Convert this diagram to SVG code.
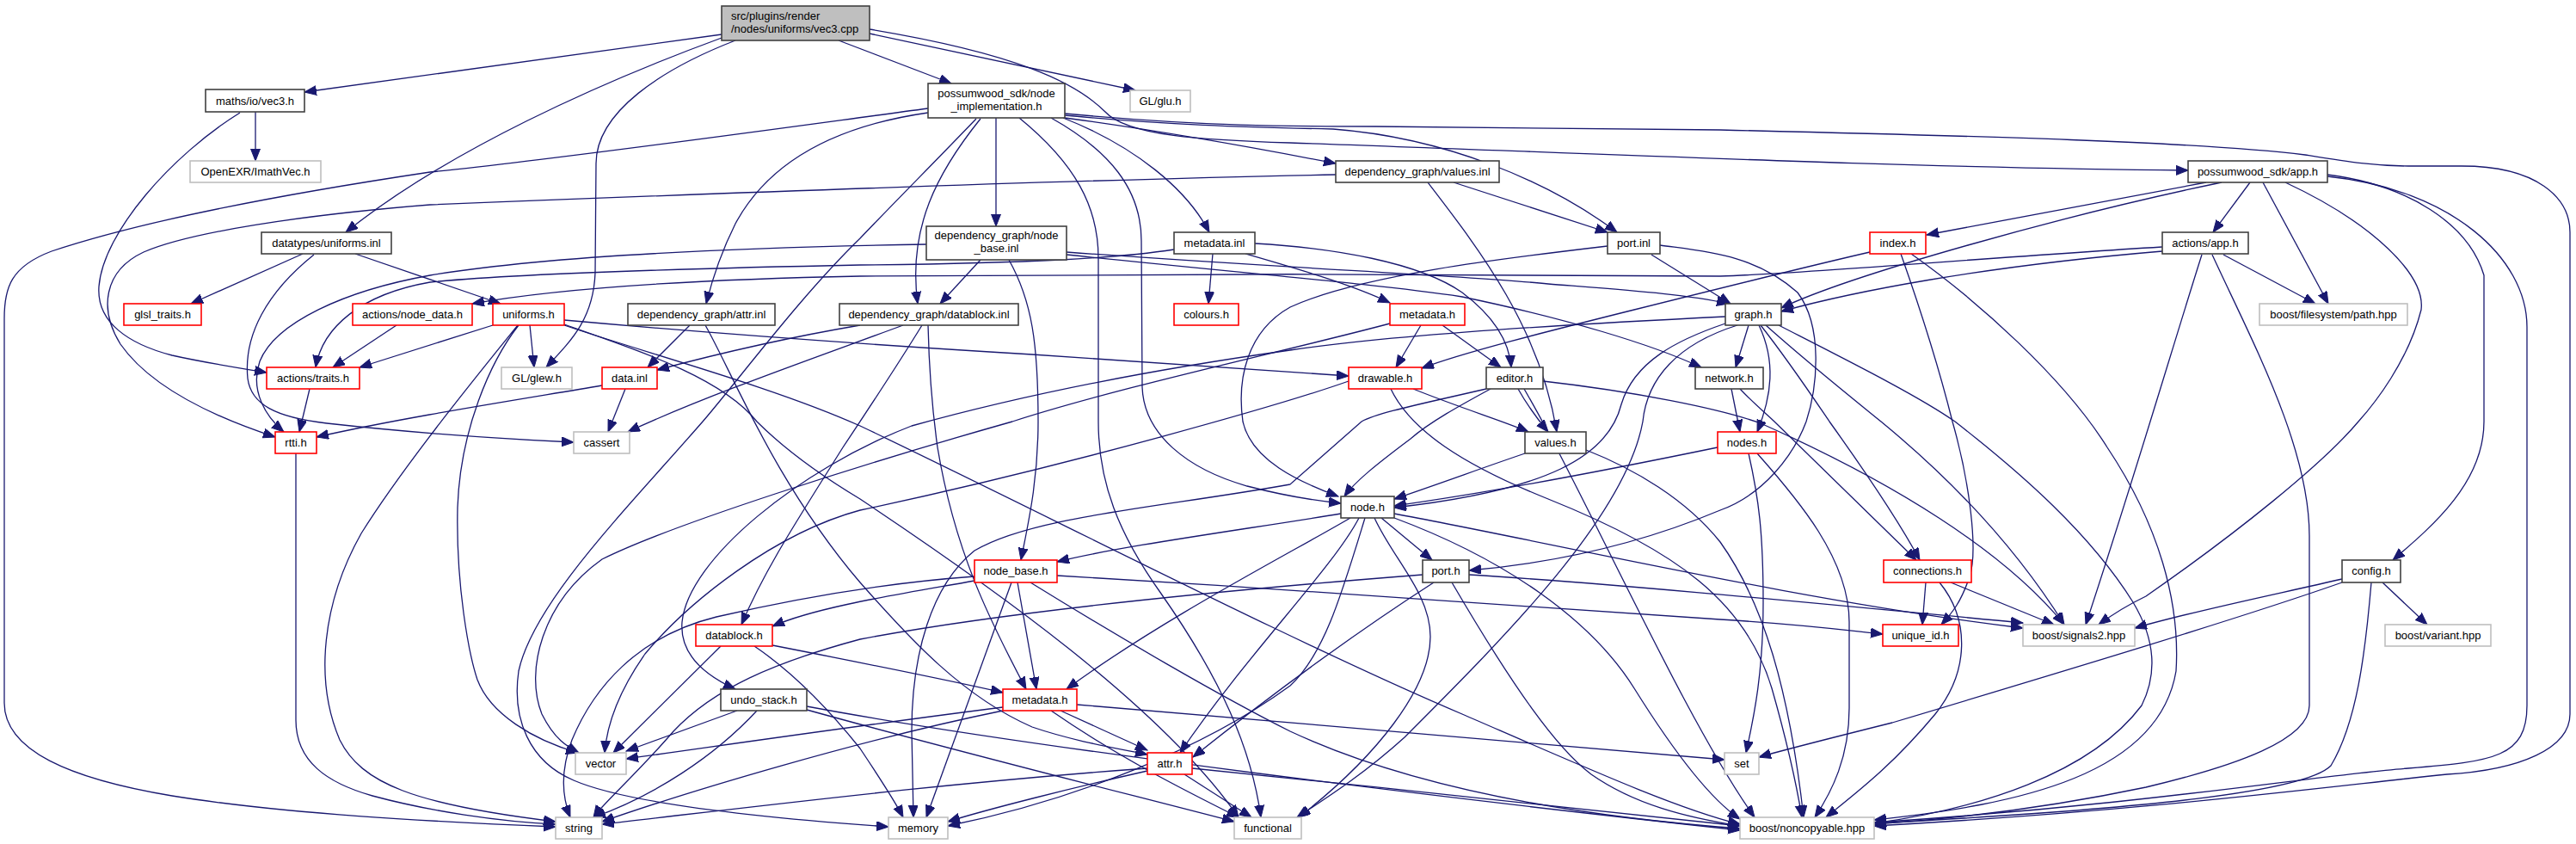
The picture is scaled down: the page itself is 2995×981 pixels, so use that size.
<svg xmlns="http://www.w3.org/2000/svg" width="2995" height="981" viewBox="0 0 2995 981">
<style>
text{font-family:"Liberation Sans",Arial,sans-serif;font-size:13px;fill:#000;text-anchor:middle}
.b{fill:#fff;stroke:#404040;stroke-width:1.6}
.r{fill:#fff;stroke:#ff0000;stroke-width:1.6}
.g{fill:#fff;stroke:#bfbfbf;stroke-width:1.6}
.top{fill:#bfbfbf;stroke:#404040;stroke-width:1.6}
#edges path{fill:none;stroke:#191970;stroke-width:1.3;marker-end:url(#ah)}
</style>
<defs>
<marker id="ah" markerUnits="userSpaceOnUse" markerWidth="15" markerHeight="12" refX="14" refY="5.5" orient="auto">
<path d="M0,0 L14,5.5 L0,11 z" fill="#191970" stroke="#191970" stroke-width="1"/>
</marker>
</defs>
<rect width="2995" height="981" fill="#fff"/>
<g id="edges">
<path d="M839,40 L354,107"/>
<path d="M839,44 C700,95 520,175 402,270"/>
<path d="M855,47 C770,80 693,130 693,190 L692,317 C690,370 665,395 635,427"/>
<path d="M975,47 L1106,97"/>
<path d="M1011,39 L1320,105"/>
<path d="M1011,34 C1180,62 1250,95 1285,130 C1310,158 1400,163 1500,166 C1800,176 2200,195 2544,198"/>
<path d="M1079,126 C900,150 650,185 500,200 C300,230 150,262 60,292 C12,310 5,335 5,370 L5,817 C5,872 80,905 200,925 C330,946 500,955 646,961"/>
<path d="M1079,131 C960,148 890,195 855,260 C840,290 828,325 821,353"/>
<path d="M1135,138 C1090,185 1040,235 1000,277 C930,345 860,440 817,490 C730,590 620,700 603,780 C595,835 615,885 667,907 C720,930 850,948 1033,961"/>
<path d="M1140,138 C1090,200 1055,265 1067,353"/>
<path d="M1158,137 L1158,263"/>
<path d="M1185,137 C1250,190 1277,240 1277,300 L1277,490 C1277,560 1300,620 1350,690 C1420,790 1455,870 1466,950"/>
<path d="M1222,137 C1290,175 1327,220 1327,280 L1328,450 C1330,505 1380,545 1450,565 C1500,578 1530,582 1559,585"/>
<path d="M1236,137 C1320,170 1380,220 1406,270"/>
<path d="M1238,137 C1350,152 1450,170 1553,190"/>
<path d="M1238,134 C1350,145 1450,148 1550,150 C1680,160 1800,210 1880,270"/>
<path d="M1238,132 C1400,147 1500,147 1600,147 L2000,151 C2300,158 2560,165 2680,180 C2730,188 2760,193 2800,193 L2862,193 C2950,193 2988,230 2988,270 L2988,830 C2988,870 2930,895 2845,900 C2700,915 2500,942 2179,960"/>
<path d="M297,130 L297,187"/>
<path d="M279,131 C200,180 120,270 115,333 C112,375 150,400 200,413 C240,422 280,428 310,433"/>
<path d="M352,295 L222,353"/>
<path d="M413,295 L582,353"/>
<path d="M365,296 C310,340 283,390 288,440 C292,470 320,485 380,492 C470,502 580,510 667,514"/>
<path d="M461,378 L387,427"/>
<path d="M573,378 L418,427"/>
<path d="M360,452 L348,502"/>
<path d="M700,448 C600,465 470,485 368,508"/>
<path d="M1553,203 C1300,208 900,222 500,238 C350,250 220,270 167,293 C120,315 115,360 140,400 C175,450 250,485 320,508"/>
<path d="M1077,284 C900,287 650,295 500,320 C400,338 320,375 302,420 C290,455 310,485 330,502"/>
<path d="M1365,290 C1300,300 1200,306 1000,308 C800,312 600,318 500,328 C420,342 375,380 367,427"/>
<path d="M2514,287 C2300,300 2100,318 2000,321 C1700,318 1300,318 1000,321 C800,325 650,335 549,353"/>
<path d="M344,527 L344,837 C344,885 380,910 433,925 C500,943 580,955 646,958"/>
<path d="M602,378 C560,430 470,540 420,620 C375,700 365,790 395,860 C420,910 480,935 646,955"/>
<path d="M603,378 C570,420 535,500 532,590 C530,680 545,760 555,790 C570,830 620,860 672,875"/>
<path d="M616,378 L621,427"/>
<path d="M656,372 C800,385 1000,400 1200,412 C1400,425 1500,433 1568,437"/>
<path d="M656,378 C750,410 900,450 1000,495 C1200,590 1500,745 1700,830 C1850,895 1950,940 2023,958"/>
<path d="M656,377 C750,410 840,440 880,490 C910,520 950,550 1000,580 C1150,680 1350,820 1440,950"/>
<path d="M802,378 L753,427"/>
<path d="M820,378 C850,430 900,560 1000,677 C1060,745 1120,810 1200,845 C1250,862 1300,870 1334,877"/>
<path d="M727,452 L707,502"/>
<path d="M1000,378 C900,395 820,415 764,430"/>
<path d="M1050,378 C950,415 820,460 730,502"/>
<path d="M1072,378 C1040,430 1000,490 980,520 C930,600 890,660 862,726"/>
<path d="M1079,378 C1080,420 1083,470 1090,520 C1110,640 1150,720 1193,801"/>
<path d="M1140,302 L1093,353"/>
<path d="M1173,302 C1200,350 1207,400 1207,490 C1207,560 1195,610 1187,651"/>
<path d="M1240,293 C1500,312 1700,320 1800,330 C1900,338 1960,342 2010,353"/>
<path d="M1240,296 C1450,318 1600,330 1700,345 C1820,370 1920,400 1978,427"/>
<path d="M1410,295 L1405,353"/>
<path d="M1448,295 C1500,310 1570,330 1616,352"/>
<path d="M1459,283 C1550,288 1650,305 1700,340 C1740,370 1755,400 1757,427"/>
<path d="M1690,212 L1869,270"/>
<path d="M1660,212 C1720,290 1790,380 1810,502"/>
<path d="M1869,286 C1750,300 1580,320 1500,357 C1450,385 1438,440 1445,490 C1455,535 1510,560 1556,577"/>
<path d="M1930,285 C1980,292 2040,295 2090,340 C2120,380 2113,450 2100,490 C2085,530 2050,575 2000,593 C1900,635 1800,655 1708,663"/>
<path d="M1920,296 L2012,353"/>
<path d="M1652,378 L1623,427"/>
<path d="M1677,378 L1745,427"/>
<path d="M1616,376 C1500,407 1300,450 1177,490 C1000,540 780,610 700,650 C630,700 610,780 630,830 C645,860 660,868 673,875"/>
<path d="M1643,452 C1700,475 1750,490 1777,502"/>
<path d="M1568,443 C1500,467 1250,540 1000,593 C900,620 800,700 750,760 C715,810 705,850 703,875"/>
<path d="M1617,452 C1640,500 1700,540 1800,580 C1950,640 2030,700 2060,800 C2080,870 2090,920 2095,950"/>
<path d="M1733,452 C1700,470 1663,490 1640,510 C1600,540 1575,560 1563,577"/>
<path d="M1765,452 C1775,470 1790,490 1800,502"/>
<path d="M1728,452 C1650,470 1600,480 1583,490 L1500,563 C1350,590 1200,600 1133,640 C1083,680 1060,760 1060,850 L1062,950"/>
<path d="M1794,443 C1900,455 2000,475 2047,492 C2200,560 2330,640 2400,726"/>
<path d="M1772,452 C1800,500 1830,560 1870,640 C1930,760 1990,880 2040,950"/>
<path d="M2013,452 L2023,502"/>
<path d="M2023,452 C2040,470 2055,482 2063,490 L2228,651"/>
<path d="M2174,293 C2100,310 2000,335 1900,360 C1800,385 1700,410 1653,428"/>
<path d="M2210,295 C2240,380 2260,450 2270,490 C2290,560 2300,640 2290,670 C2280,700 2270,712 2257,726"/>
<path d="M2222,295 C2300,350 2400,440 2450,520 C2510,610 2535,700 2530,780 C2510,900 2350,935 2179,953"/>
<path d="M2006,368 C1800,378 1600,392 1500,407 C1300,435 1150,470 1060,495 C930,545 800,650 793,723 C790,760 820,785 855,801"/>
<path d="M2006,376 C1950,395 1900,420 1885,470 C1870,530 1800,570 1621,590"/>
<path d="M2020,378 C1950,400 1915,440 1910,490 C1890,600 1750,740 1633,857 C1580,905 1530,935 1508,950"/>
<path d="M2033,378 L2018,427"/>
<path d="M2045,378 C2065,420 2060,460 2043,502"/>
<path d="M2047,378 C2080,420 2110,465 2127,490 C2170,550 2210,610 2232,651"/>
<path d="M2053,378 C2100,420 2150,460 2187,490 C2260,550 2340,630 2400,726"/>
<path d="M2068,378 C2150,420 2230,460 2273,490 C2350,550 2430,620 2480,700 C2510,750 2505,790 2490,820 C2430,900 2300,940 2179,957"/>
<path d="M2565,212 L2240,273"/>
<path d="M2583,212 C2400,250 2150,320 2071,358"/>
<path d="M2616,212 L2573,270"/>
<path d="M2631,212 L2707,353"/>
<path d="M2657,212 C2760,260 2820,320 2815,360 C2800,420 2760,470 2742,490 C2700,540 2600,620 2495,693 C2470,705 2455,715 2440,726"/>
<path d="M2706,203 C2800,215 2870,260 2888,320 L2888,490 C2888,560 2830,610 2782,651"/>
<path d="M2706,205 C2850,220 2938,300 2938,380 L2938,820 C2938,880 2900,885 2800,893 C2700,900 2500,935 2179,956"/>
<path d="M2514,292 C2300,310 2150,340 2071,362"/>
<path d="M2585,296 L2692,353"/>
<path d="M2560,296 C2530,390 2480,560 2425,726"/>
<path d="M2572,296 C2620,400 2685,520 2685,623 L2685,820 C2685,860 2600,890 2495,915 C2400,935 2300,950 2179,958"/>
<path d="M2770,677 L2822,726"/>
<path d="M2723,673 C2650,690 2550,710 2482,730"/>
<path d="M2723,677 C2600,720 2400,780 2200,840 C2120,860 2080,870 2045,880"/>
<path d="M2757,677 C2750,760 2740,840 2710,890 C2680,920 2500,940 2179,957"/>
<path d="M1997,520 C1900,540 1750,570 1621,588"/>
<path d="M2033,527 C2045,580 2050,620 2050,700 C2050,780 2040,830 2030,875"/>
<path d="M2043,527 C2090,580 2150,650 2150,723 L2150,823 C2150,880 2130,920 2110,950"/>
<path d="M1773,527 C1720,545 1680,560 1621,580"/>
<path d="M1844,523 C1900,545 1960,580 2000,630 C2050,700 2080,800 2097,950"/>
<path d="M1559,597 C1450,615 1300,635 1229,653"/>
<path d="M1570,602 C1500,643 1350,720 1240,801"/>
<path d="M1580,602 C1550,660 1450,760 1372,875"/>
<path d="M1606,602 L1665,651"/>
<path d="M1621,597 C1800,630 2100,700 2352,730"/>
<path d="M1587,602 C1560,690 1540,760 1500,797 C1400,870 1250,930 1102,960"/>
<path d="M1598,602 C1620,650 1663,690 1663,740 C1663,800 1600,880 1510,950"/>
<path d="M1621,602 C1750,650 1850,720 1900,800 C1950,880 1990,930 2023,952"/>
<path d="M1654,668 C1500,680 1200,705 1000,743 C900,770 830,800 783,850 C740,900 700,935 690,950"/>
<path d="M1667,677 C1600,720 1500,790 1387,880"/>
<path d="M1708,668 C1900,680 2150,705 2352,724"/>
<path d="M1688,677 C1760,800 1810,870 1850,900 C1900,935 1960,950 2023,960"/>
<path d="M2239,677 L2235,726"/>
<path d="M2268,677 L2388,726"/>
<path d="M2255,677 C2290,720 2290,780 2250,830 C2200,890 2160,920 2123,950"/>
<path d="M1133,670 C1050,676 950,690 833,717 C740,740 690,800 665,860 C650,900 655,930 663,950"/>
<path d="M1133,675 C1050,690 950,705 898,728"/>
<path d="M1183,677 L1205,801"/>
<path d="M1176,677 L1077,950"/>
<path d="M1229,669 C1500,685 1800,705 2000,720 C2100,726 2150,733 2189,737"/>
<path d="M1198,677 C1300,740 1420,810 1500,850 C1650,920 1850,950 2023,963"/>
<path d="M838,751 L713,875"/>
<path d="M877,751 C920,780 960,820 1000,870 C1020,900 1040,930 1050,950"/>
<path d="M898,750 C1000,770 1100,790 1166,805"/>
<path d="M857,826 L728,873"/>
<path d="M880,826 C830,880 760,925 690,950"/>
<path d="M938,825 C1100,870 1300,920 1435,955"/>
<path d="M938,821 C1200,870 1700,930 2023,965"/>
<path d="M1166,822 C1000,843 850,865 728,882"/>
<path d="M1166,826 C1000,860 800,920 700,955"/>
<path d="M1222,826 C1300,880 1380,920 1440,950"/>
<path d="M1233,826 L1334,872"/>
<path d="M1252,819 C1500,840 1800,865 2005,883"/>
<path d="M1334,893 C1100,910 900,935 700,958"/>
<path d="M1334,896 C1250,915 1150,940 1102,955"/>
<path d="M1377,900 L1455,950"/>
<path d="M1386,893 C1600,915 1850,940 2023,960"/>
</g>
<g id="n0"><rect class="top" x="839" y="7" width="172" height="40"/><text x="850" y="23" style="text-anchor:start">src/plugins/render</text><text x="850" y="38" style="text-anchor:start">/nodes/uniforms/vec3.cpp</text></g>
<g id="n1"><rect class="b" x="239" y="104" width="115" height="26"/><text x="296.5" y="121.5">maths/io/vec3.h</text></g>
<g id="n2"><rect class="g" x="221" y="187" width="152" height="25"/><text x="297" y="204">OpenEXR/ImathVec.h</text></g>
<g id="n3"><rect class="b" x="304" y="270" width="151" height="25"/><text x="379.5" y="287">datatypes/uniforms.inl</text></g>
<g id="n4"><rect class="r" x="144" y="353" width="90" height="25"/><text x="189" y="370">glsl_traits.h</text></g>
<g id="n5"><rect class="r" x="410" y="353" width="139" height="25"/><text x="479.5" y="370">actions/node_data.h</text></g>
<g id="n6"><rect class="r" x="310" y="427" width="108" height="25"/><text x="364" y="444">actions/traits.h</text></g>
<g id="n7"><rect class="r" x="320" y="502" width="48" height="25"/><text x="344" y="519">rtti.h</text></g>
<g id="n8"><rect class="r" x="573" y="353" width="83" height="25"/><text x="614.5" y="370">uniforms.h</text></g>
<g id="n9"><rect class="g" x="583" y="427" width="82" height="25"/><text x="624" y="444">GL/glew.h</text></g>
<g id="n10"><rect class="b" x="730" y="353" width="171" height="25"/><text x="815.5" y="370">dependency_graph/attr.inl</text></g>
<g id="n11"><rect class="r" x="700" y="427" width="64" height="25"/><text x="732" y="444">data.inl</text></g>
<g id="n12"><rect class="g" x="667" y="502" width="65" height="25"/><text x="699.5" y="519">cassert</text></g>
<g id="n13"><rect class="b" x="1079" y="97" width="159" height="40"/><text x="1158.5" y="113">possumwood_sdk/node</text><text x="1158.5" y="128">_implementation.h</text></g>
<g id="n14"><rect class="g" x="1314" y="105" width="70" height="25"/><text x="1349" y="122">GL/glu.h</text></g>
<g id="n15"><rect class="b" x="1077" y="263" width="163" height="39"/><text x="1158.5" y="278">dependency_graph/node</text><text x="1158.5" y="293">_base.inl</text></g>
<g id="n16"><rect class="b" x="976" y="353" width="208" height="25"/><text x="1080" y="370">dependency_graph/datablock.inl</text></g>
<g id="n17"><rect class="b" x="1365" y="270" width="94" height="25"/><text x="1412" y="287">metadata.inl</text></g>
<g id="n18"><rect class="r" x="1365" y="353" width="75" height="25"/><text x="1402.5" y="370">colours.h</text></g>
<g id="n19"><rect class="b" x="1553" y="187" width="190" height="25"/><text x="1648" y="204">dependency_graph/values.inl</text></g>
<g id="n20"><rect class="b" x="1869" y="270" width="61" height="25"/><text x="1899.5" y="287">port.inl</text></g>
<g id="n21"><rect class="r" x="1616" y="353" width="87" height="25"/><text x="1659.5" y="370">metadata.h</text></g>
<g id="n22"><rect class="r" x="1568" y="427" width="85" height="25"/><text x="1610.5" y="444">drawable.h</text></g>
<g id="n23"><rect class="b" x="1728" y="427" width="66" height="25"/><text x="1761" y="444">editor.h</text></g>
<g id="n24"><rect class="b" x="1971" y="427" width="79" height="25"/><text x="2010.5" y="444">network.h</text></g>
<g id="n25"><rect class="r" x="2174" y="270" width="65" height="25"/><text x="2206.5" y="287">index.h</text></g>
<g id="n26"><rect class="b" x="2006" y="353" width="65" height="25"/><text x="2038.5" y="370">graph.h</text></g>
<g id="n27"><rect class="b" x="2544" y="187" width="162" height="25"/><text x="2625" y="204">possumwood_sdk/app.h</text></g>
<g id="n28"><rect class="b" x="2514" y="270" width="100" height="25"/><text x="2564" y="287">actions/app.h</text></g>
<g id="n29"><rect class="g" x="2627" y="353" width="172" height="25"/><text x="2713" y="370">boost/filesystem/path.hpp</text></g>
<g id="n30"><rect class="b" x="2723" y="651" width="68" height="26"/><text x="2757" y="668">config.h</text></g>
<g id="n31"><rect class="g" x="2773" y="726" width="123" height="25"/><text x="2834.5" y="743">boost/variant.hpp</text></g>
<g id="n32"><rect class="r" x="1997" y="502" width="68" height="25"/><text x="2031" y="519">nodes.h</text></g>
<g id="n33"><rect class="b" x="1773" y="502" width="71" height="25"/><text x="1808.5" y="519">values.h</text></g>
<g id="n34"><rect class="b" x="1559" y="577" width="62" height="25"/><text x="1590" y="594">node.h</text></g>
<g id="n35"><rect class="b" x="1654" y="651" width="54" height="26"/><text x="1681" y="668">port.h</text></g>
<g id="n36"><rect class="r" x="2190" y="651" width="102" height="26"/><text x="2241" y="668">connections.h</text></g>
<g id="n37"><rect class="r" x="2189" y="726" width="88" height="25"/><text x="2233" y="743">unique_id.h</text></g>
<g id="n38"><rect class="g" x="2352" y="726" width="130" height="25"/><text x="2417" y="743">boost/signals2.hpp</text></g>
<g id="n39"><rect class="g" x="2005" y="875" width="40" height="25"/><text x="2025" y="892">set</text></g>
<g id="n40"><rect class="g" x="2023" y="950" width="156" height="25"/><text x="2101" y="967">boost/noncopyable.hpp</text></g>
<g id="n41"><rect class="r" x="1133" y="651" width="96" height="26"/><text x="1181" y="668">node_base.h</text></g>
<g id="n42"><rect class="r" x="809" y="726" width="89" height="25"/><text x="853.5" y="743">datablock.h</text></g>
<g id="n43"><rect class="b" x="838" y="801" width="100" height="25"/><text x="888" y="818">undo_stack.h</text></g>
<g id="n44"><rect class="r" x="1166" y="801" width="86" height="25"/><text x="1209" y="818">metadata.h</text></g>
<g id="n45"><rect class="r" x="1334" y="875" width="52" height="25"/><text x="1360" y="892">attr.h</text></g>
<g id="n46"><rect class="g" x="669" y="875" width="59" height="25"/><text x="698.5" y="892">vector</text></g>
<g id="n47"><rect class="g" x="646" y="950" width="54" height="25"/><text x="673" y="967">string</text></g>
<g id="n48"><rect class="g" x="1033" y="950" width="69" height="25"/><text x="1067.5" y="967">memory</text></g>
<g id="n49"><rect class="g" x="1435" y="950" width="78" height="25"/><text x="1474" y="967">functional</text></g>
</svg>
